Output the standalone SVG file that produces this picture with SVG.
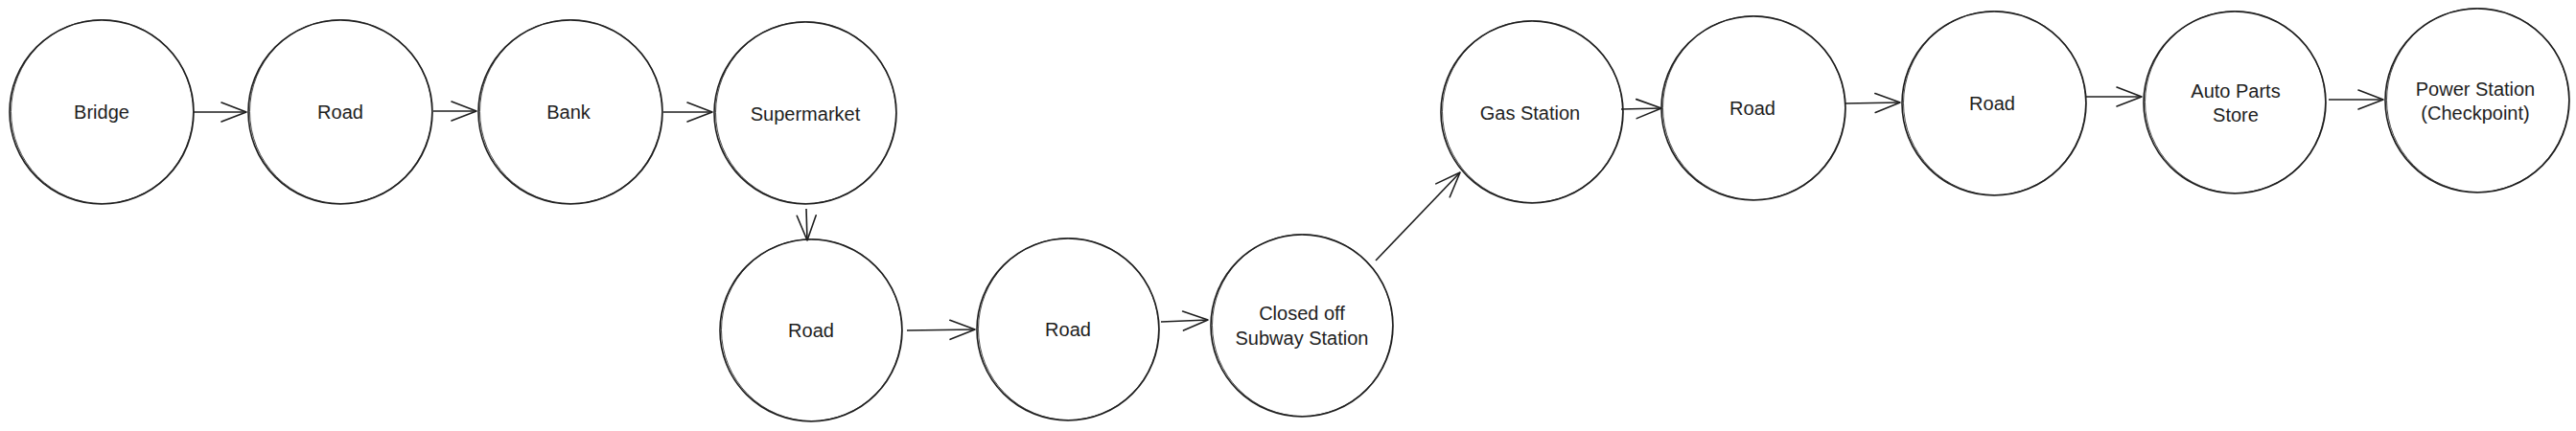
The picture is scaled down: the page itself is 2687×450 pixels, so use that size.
<svg xmlns="http://www.w3.org/2000/svg" width="2687" height="450" viewBox="0 0 2687 450">
<style>
.node circle{fill:#fff;stroke:#1e1e1e;stroke-width:1.6}
.node .s2{fill:none;stroke:#1e1e1e;stroke-width:0.8}
.node text{font-family:"Liberation Sans",Arial,sans-serif;font-size:20px;fill:#1e1e1e;text-anchor:middle;dominant-baseline:central}
.conn line{stroke:#1e1e1e;stroke-width:1.6;fill:none;marker-end:url(#arr)}
</style>
<defs>
<marker id="arr" viewBox="0 0 30 24" refX="28" refY="12" markerWidth="30" markerHeight="24" markerUnits="userSpaceOnUse" orient="auto">
<path d="M2,2 L28,12 L2,22" fill="none" stroke="#1e1e1e" stroke-width="1.6" stroke-linecap="round" stroke-linejoin="round"/>
</marker>
</defs>
<rect width="2687" height="450" fill="#fff"/>
<g class="node" id="n-bridge"><circle cx="106" cy="117" r="96"/><ellipse class="s2" cx="106.5" cy="116.5" rx="95" ry="96"/><text x="106" y="117">Bridge</text></g>
<g class="node" id="n-road1"><circle cx="355" cy="117" r="96"/><ellipse class="s2" cx="355.5" cy="116.5" rx="95" ry="96"/><text x="355" y="117">Road</text></g>
<g class="node" id="n-bank"><circle cx="595" cy="117" r="96"/><ellipse class="s2" cx="595.5" cy="116.5" rx="95" ry="96"/><text x="593" y="117">Bank</text></g>
<g class="node" id="n-supermarket"><circle cx="840" cy="118" r="95"/><ellipse class="s2" cx="840.5" cy="117.5" rx="94" ry="95"/><text x="840" y="119">Supermarket</text></g>
<g class="node" id="n-road2"><circle cx="846" cy="345" r="95"/><ellipse class="s2" cx="846.5" cy="344.5" rx="94" ry="95"/><text x="846" y="345">Road</text></g>
<g class="node" id="n-road3"><circle cx="1114" cy="344" r="95"/><ellipse class="s2" cx="1114.5" cy="343.5" rx="94" ry="95"/><text x="1114" y="344">Road</text></g>
<g class="node" id="n-subway"><circle cx="1358" cy="340" r="95"/><ellipse class="s2" cx="1358.5" cy="339.5" rx="94" ry="95"/><text x="1358" y="327">Closed off</text><text x="1358" y="353">Subway Station</text></g>
<g class="node" id="n-gas"><circle cx="1598" cy="117" r="95"/><ellipse class="s2" cx="1598.5" cy="116.5" rx="94" ry="95"/><text x="1596" y="118">Gas Station</text></g>
<g class="node" id="n-road4"><circle cx="1829" cy="113" r="96"/><ellipse class="s2" cx="1829.5" cy="112.5" rx="95" ry="96"/><text x="1828" y="113">Road</text></g>
<g class="node" id="n-road5"><circle cx="2080" cy="108" r="96"/><ellipse class="s2" cx="2080.5" cy="107.5" rx="95" ry="96"/><text x="2078" y="108">Road</text></g>
<g class="node" id="n-auto"><circle cx="2331" cy="107" r="95"/><ellipse class="s2" cx="2331.5" cy="106.5" rx="94" ry="95"/><text x="2332" y="95">Auto Parts</text><text x="2332" y="120">Store</text></g>
<g class="node" id="n-power"><circle cx="2584" cy="105" r="96"/><ellipse class="s2" cx="2584.5" cy="104.5" rx="95" ry="96"/><text x="2582" y="93">Power Station</text><text x="2582" y="118">(Checkpoint)</text></g>
<g class="conn" id="connectors">
<line x1="202" y1="117" x2="257" y2="117"/>
<line x1="452" y1="116" x2="497" y2="116"/>
<line x1="692" y1="117" x2="743" y2="117"/>
<line x1="841" y1="218" x2="842" y2="251"/>
<line x1="946" y1="345" x2="1017" y2="344"/>
<line x1="1211" y1="336" x2="1260" y2="334"/>
<line x1="1435" y1="272" x2="1523" y2="180"/>
<line x1="1691" y1="114" x2="1733" y2="113"/>
<line x1="1925" y1="108" x2="1982" y2="107"/>
<line x1="2176" y1="101" x2="2234" y2="101"/>
<line x1="2429" y1="104" x2="2486" y2="104"/>
</g>
</svg>
